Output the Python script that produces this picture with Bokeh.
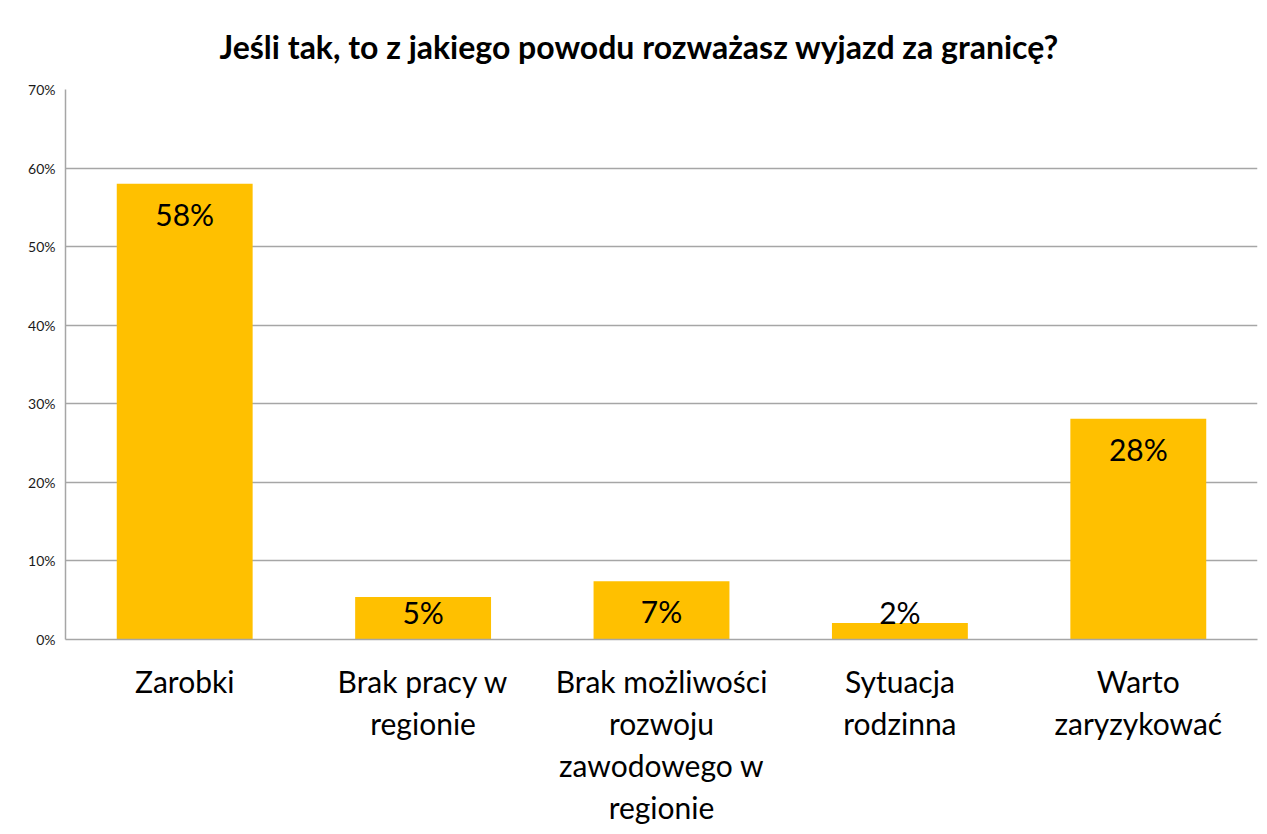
from bokeh.plotting import figure
from bokeh.models import ColumnDataSource, FixedTicker, NumeralTickFormatter, Range1d, LinearAxis
from bokeh.core.properties import value
from bokeh.embed import file_html
from bokeh.resources import INLINE

categories = ["Zarobki", "Brak pracy w regionie", "Brak możliwości rozwoju zawodowego w regionie",
              "Sytuacja rodzinna", "Warto zaryzykować"]
label_lines = [
    ["Zarobki"],
    ["Brak pracy w", "regionie"],
    ["Brak możliwości", "rozwoju", "zawodowego w", "regionie"],
    ["Sytuacja", "rodzinna"],
    ["Warto", "zaryzykować"],
]
shares = [0.58, 0.054, 0.074, 0.021, 0.281]
y_ticks = [0.0, 0.1, 0.2, 0.3, 0.4, 0.5, 0.6, 0.7]

FONT = "Lato"

xpos = list(range(len(categories)))
label_text = [f"{round(v * 100)}%" for v in shares]
label_y = [max(v - 0.038, 0.0356) for v in shares]

src = ColumnDataSource(dict(x=xpos, cat=categories, val=shares, lab=label_text, ly=label_y))

p = figure(width=1267, height=834, output_backend="svg", toolbar_location=None,
           x_range=Range1d(-0.5, len(categories) - 0.5), y_range=Range1d(0, 0.7),
           min_border_left=65, min_border_right=10, min_border_top=89, min_border_bottom=195,
           x_axis_type=None,
           title="Jeśli tak, to z jakiego powodu rozważasz wyjazd za granicę?")

p.title.text_font = FONT
p.title.text_font_size = "32px"
p.title.text_font_style = "bold"
p.title.align = "left"
p.title.offset = 154
p.title.standoff = 47
p.title.text_color = "#000000"

p.vbar(x="x", top="val", width=0.57, source=src, fill_color="#FFC000", line_color=None)
p.text(x="x", y="ly", text="lab", source=src, text_align="center", text_baseline="middle",
       text_font=value(FONT), text_font_size="30px", text_color="#000000")

p.outline_line_color = None
p.background_fill_color = "white"
p.border_fill_color = "white"

p.xgrid.grid_line_color = None
p.ygrid.grid_line_color = "#a6a6a6"
p.ygrid.grid_line_width = 1.5

p.yaxis.ticker = FixedTicker(ticks=y_ticks)
p.yaxis.formatter = NumeralTickFormatter(format="0%")
p.yaxis.major_tick_line_color = None
p.yaxis.minor_tick_line_color = None
p.yaxis.major_tick_out = 0
p.yaxis.major_label_standoff = 10
p.yaxis.major_label_text_font = FONT
p.yaxis.major_label_text_font_size = "14px"
p.yaxis.major_label_text_color = "#1a1a1a"
p.yaxis.axis_line_color = "#a6a6a6"
p.yaxis.axis_line_width = 1.5


def line_overrides(i):
    return {x: (ls[i] if i < len(ls) else " ") for x, ls in zip(xpos, label_lines)}


n_lines = max(len(ls) for ls in label_lines)
for i in range(n_lines):
    ax = LinearAxis(ticker=FixedTicker(ticks=xpos),
                    major_label_overrides=line_overrides(i),
                    axis_line_color="#a6a6a6" if i == 0 else None,
                    axis_line_width=1.5,
                    major_tick_line_color=None, minor_tick_line_color=None,
                    major_tick_out=0, major_tick_in=0, minor_tick_out=0, minor_tick_in=0,
                    major_label_standoff=23 if i == 0 else 3,
                    major_label_text_font=FONT, major_label_text_font_size="30px",
                    major_label_text_color="#000000")
    p.add_layout(ax, "below")

open("out.html", "w").write(file_html(p, INLINE))
